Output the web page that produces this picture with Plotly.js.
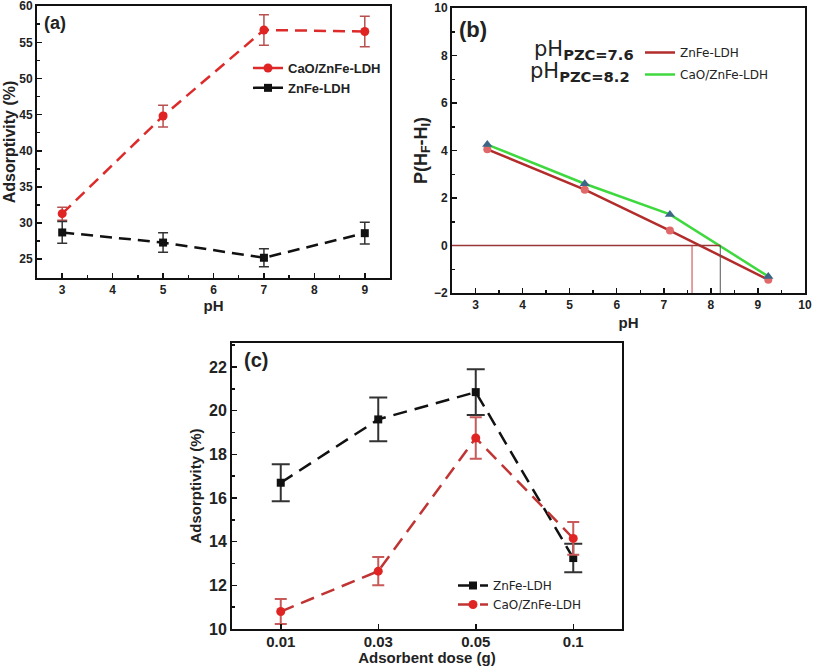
<!DOCTYPE html>
<html>
<head>
<meta charset="utf-8">
<script src="https://cdn.plot.ly/plotly-3.0.1.min.js"></script>
<style>html,body{margin:0;padding:0;background:#fff;}#chart{width:813px;height:666px;}</style>
</head>
<body>
<div id="chart"></div>
<script>
// ---- Panel (a): adsorptivity vs pH ----
const phA = [3, 5, 7, 9];
const caoA = [31.3, 44.8, 56.7, 56.5];
const caoAErr = [0.9, 1.5, 2.1, 2.1];
const znA = [28.7, 27.3, 25.2, 28.6];
const znAErr = [1.5, 1.35, 1.25, 1.5];

// ---- Panel (b): point of zero charge ----
const phB = [3.25, 5.32, 7.13, 9.22];
const znB = [4.05, 2.35, 0.63, -1.44];
const caoB = [4.25, 2.6, 1.31, -1.3];
const pzcZn = 7.6;
const pzcCao = 8.2;

// ---- Panel (c): adsorptivity vs adsorbent dose ----
const doses = ['0.01', '0.03', '0.05', '0.1'];
const znC = [16.7, 19.6, 20.85, 13.25];
const znCErr = [0.85, 1.0, 1.05, 0.65];
const caoC = [10.8, 12.65, 18.75, 14.15];
const caoCErr = [0.57, 0.65, 0.95, 0.75];

const F = 'Liberation Sans, Arial, sans-serif';
const FD = 'DejaVu Sans, Verdana, sans-serif';

const traces = [
  {x: phA, y: caoA, xaxis: 'x', yaxis: 'y', name: 'CaO/ZnFe-LDH', mode: 'lines+markers',
   line: {color: '#dd2a2a', width: 2.5, dash: '12px,7px'},
   marker: {color: '#e02424', size: 9, symbol: 'circle'},
   error_y: {type: 'data', array: caoAErr, visible: true, color: '#b85050', thickness: 1.5, width: 5},
   legend: 'legend'},
  {x: phA, y: znA, xaxis: 'x', yaxis: 'y', name: 'ZnFe-LDH', mode: 'lines+markers',
   line: {color: '#111', width: 2.5, dash: '12px,7px'},
   marker: {color: '#111', size: 8, symbol: 'square'},
   error_y: {type: 'data', array: znAErr, visible: true, color: '#333', thickness: 1.5, width: 5},
   legend: 'legend'},

  {x: phB, y: znB, xaxis: 'x2', yaxis: 'y2', name: 'ZnFe-LDH', mode: 'lines+markers',
   line: {color: '#b32c2c', width: 2.5},
   marker: {color: '#e06868', size: 8, symbol: 'circle'},
   showlegend: false},
  {x: phB, y: caoB, xaxis: 'x2', yaxis: 'y2', name: 'CaO/ZnFe-LDH', mode: 'lines+markers',
   line: {color: '#3fd83f', width: 2.5},
   marker: {color: '#3c6688', size: 9, symbol: 'triangle-up'},
   showlegend: false},
  {x: [null], y: [null], xaxis: 'x2', yaxis: 'y2', name: 'ZnFe-LDH', mode: 'lines',
   line: {color: '#b32c2c', width: 2.5}, legend: 'legend2'},
  {x: [null], y: [null], xaxis: 'x2', yaxis: 'y2', name: 'CaO/ZnFe-LDH', mode: 'lines',
   line: {color: '#3fd83f', width: 2.5}, legend: 'legend3'},

  {x: doses, y: znC, xaxis: 'x3', yaxis: 'y3', name: 'ZnFe-LDH', mode: 'lines+markers',
   line: {color: '#111', width: 2.5, dash: '14px,8px'},
   marker: {color: '#111', size: 8, symbol: 'square'},
   error_y: {type: 'data', array: znCErr, visible: true, color: '#333', thickness: 2, width: 9},
   legend: 'legend4'},
  {x: doses, y: caoC, xaxis: 'x3', yaxis: 'y3', name: 'CaO/ZnFe-LDH', mode: 'lines+markers',
   line: {color: '#c03434', width: 2.5, dash: '14px,8px'},
   marker: {color: '#e02424', size: 9, symbol: 'circle'},
   error_y: {type: 'data', array: caoCErr, visible: true, color: '#c85a5a', thickness: 2, width: 6},
   legend: 'legend4'}
];

const axBase = {showline: true, mirror: true, linecolor: '#111', linewidth: 2,
  ticks: 'inside', ticklen: 5, tickwidth: 1.5, tickcolor: '#111',
  showgrid: false, zeroline: false, ticklabeloverflow: 'allow',
  tickfont: {family: F, size: 12, color: '#222', weight: 'bold'}};

function ax(extra) { return Object.assign({}, axBase, extra); }

const layout = {
  width: 813, height: 666, autosize: false,
  margin: {l: 0, r: 0, t: 0, b: 0},
  paper_bgcolor: '#fff', plot_bgcolor: '#fff',
  font: {family: F, color: '#222'},
  xaxis: ax({domain: [37/813, 390/813], range: [2.5, 9.5], dtick: 1, tick0: 0, anchor: 'y',
    minor: {ticks: 'inside', ticklen: 3, dtick: 0.5, tick0: 0, tickcolor: '#111'},
    title: {text: '<b>pH</b>', font: {family: F, size: 15}, standoff: 4}}),
  yaxis: ax({domain: [1 - 278/666, 1 - 6/666], range: [22.4, 60.02], dtick: 5, tick0: 0, anchor: 'x',
    minor: {ticks: 'inside', ticklen: 3, dtick: 2.5, tick0: 0, tickcolor: '#111'},
    title: {text: '<b>Adsorptivity (%)</b>', font: {family: F, size: 16}, standoff: 0}}),
  xaxis2: ax({domain: [452/813, 805/813], range: [2.5, 10], dtick: 1, tick0: 0, anchor: 'y2',
    minor: {ticks: 'inside', ticklen: 3, dtick: 0.5, tick0: 0, tickcolor: '#111'},
    title: {text: '<b>pH</b>', font: {family: F, size: 15}, standoff: 6}}),
  yaxis2: ax({domain: [1 - 293/666, 1 - 8/666], range: [-2, 10], dtick: 2, tick0: 0, anchor: 'x2',
    minor: {ticks: 'inside', ticklen: 3, dtick: 1, tick0: 0, tickcolor: '#111'},
    title: {text: '<b>P(H<sub>F</sub>-H<sub>I</sub>)</b>', font: {family: F, size: 18}, standoff: 2}}),
  xaxis3: ax({domain: [232/813, 622/813], range: [-0.5, 3.5], type: 'category', anchor: 'y3',
    tickfont: {family: F, size: 15, color: '#222', weight: 'bold'}, ticklabelstandoff: -2,
    title: {text: '<b>Adsorbent dose (g)</b>', font: {family: F, size: 15}, standoff: 0}}),
  yaxis3: ax({domain: [1 - 629/666, 1 - 343/666], range: [10, 23.1], dtick: 2, tick0: 0, anchor: 'x3',
    tickfont: {family: F, size: 16, color: '#222', weight: 'bold'},
    minor: {ticks: 'inside', ticklen: 3, dtick: 1, tick0: 0, tickcolor: '#111'},
    title: {text: '<b>Adsorptivity (%)</b>', font: {family: F, size: 15}, standoff: 4}}),

  legend: {x: 248/813, y: 1 - 53/666, xanchor: 'left', yanchor: 'top', bgcolor: 'rgba(0,0,0,0)',
    font: {family: F, size: 13, color: '#222', weight: 'bold'}, tracegroupgap: 0},
  legend2: {x: 640/813, y: 1 - 38/666, xanchor: 'left', yanchor: 'top', bgcolor: 'rgba(0,0,0,0)',
    font: {family: FD, size: 12, color: '#222'}},
  legend3: {x: 640/813, y: 1 - 60/666, xanchor: 'left', yanchor: 'top', bgcolor: 'rgba(0,0,0,0)',
    font: {family: FD, size: 12, color: '#222'}},
  legend4: {x: 453/813, y: 1 - 571/666, xanchor: 'left', yanchor: 'top', bgcolor: 'rgba(0,0,0,0)',
    font: {family: FD, size: 12, color: '#222'}},

  shapes: [
    {type: 'line', xref: 'x2', yref: 'y2', x0: 2.5, x1: pzcCao, y0: 0, y1: 0,
     line: {color: '#9a3535', width: 1.5}},
    {type: 'line', xref: 'x2', yref: 'y2', x0: pzcZn, x1: pzcZn, y0: -2, y1: 0,
     line: {color: '#c84040', width: 1}},
    {type: 'line', xref: 'x2', yref: 'y2', x0: pzcCao, x1: pzcCao, y0: -2, y1: 0,
     line: {color: '#555', width: 1}}
  ],

  annotations: [
    {text: '<b>(a)</b>', xref: 'paper', yref: 'paper', x: 42/813, y: 1 - 23/666,
     xanchor: 'left', yanchor: 'middle', showarrow: false, font: {family: F, size: 18, color: '#222'}},
    {text: '<b>(b)</b>', xref: 'paper', yref: 'paper', x: 457/813, y: 1 - 30/666,
     xanchor: 'left', yanchor: 'middle', showarrow: false, font: {family: F, size: 22, color: '#222'}},
    {text: '<b>(c)</b>', xref: 'paper', yref: 'paper', x: 242/813, y: 1 - 360/666,
     xanchor: 'left', yanchor: 'middle', showarrow: false, font: {family: F, size: 20, color: '#222'}},
    {text: 'pH<sub><b>PZC=' + pzcZn.toFixed(1) + '</b></sub>', xref: 'paper', yref: 'paper',
     x: 636/813, y: 1 - 50/666, xanchor: 'right', yanchor: 'middle', showarrow: false,
     font: {family: FD, size: 21, color: '#222'}},
    {text: 'pH<sub><b>PZC=' + pzcCao.toFixed(1) + '</b></sub>', xref: 'paper', yref: 'paper',
     x: 632/813, y: 1 - 72/666, xanchor: 'right', yanchor: 'middle', showarrow: false,
     font: {family: FD, size: 21, color: '#222'}}
  ]
};

Plotly.newPlot('chart', traces, layout, {displayModeBar: false, staticPlot: true});
</script>
</body>
</html>
